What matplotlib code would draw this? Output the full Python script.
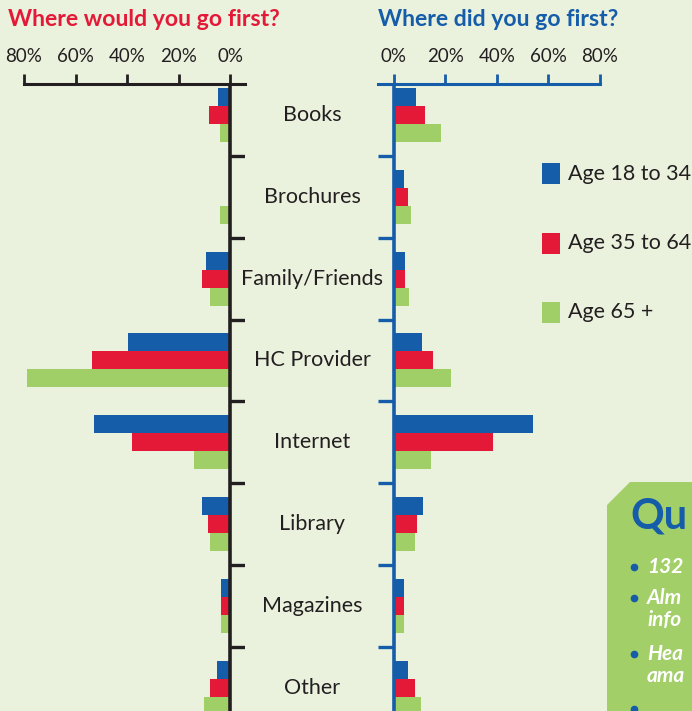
import matplotlib
matplotlib.use("Agg")
import matplotlib.pyplot as plt
from matplotlib.lines import Line2D
from matplotlib.patches import Polygon, Rectangle
from matplotlib.transforms import blended_transform_factory

plt.rcParams['font.family'] = ['Lato', 'DejaVu Sans']

# data (percent of respondents)
categories = ["Books", "Brochures", "Family/Friends", "HC Provider",
              "Internet", "Library", "Magazines", "Other"]
age_groups = ["Age 18 to 34", "Age 35 to 64", "Age 65 +"]
would_18_34 = [4.8, 0.0, 9.3, 39.5, 53.0, 10.9, 3.5, 5.0]
would_35_64 = [8.0, 0.0, 10.9, 53.5, 38.0, 8.5, 3.5, 7.8]
would_65 = [3.8, 3.8, 7.8, 79.0, 14.0, 7.8, 3.5, 10.0]
did_18_34 = [8.6, 3.9, 4.3, 11.0, 54.0, 11.3, 3.9, 5.5]
did_35_64 = [12.0, 5.5, 4.3, 15.0, 38.5, 9.0, 3.9, 8.2]
did_65 = [18.3, 6.6, 5.9, 22.0, 14.5, 8.2, 3.9, 10.5]
pct_ticks = [0, 20, 40, 60, 80]
# the facts panel is cut by the page edge; only these fragments show
facts_title = "Qu"
facts = ["132", "Alm\ninfo", "Hea\nama"]

BG = '#eaf2de'
DARK = '#231f20'
BLUE = '#155ca9'
RED = '#e31937'
GREEN = '#a1cf67'
colors = [BLUE, RED, GREEN]

W, H = 692, 711


def fx(px):
    return px / W


def fy(py):
    return 1 - py / H


fig = plt.figure(figsize=(W / 100, H / 100), dpi=100, facecolor=BG)

# green "quick facts" box in the corner
box = Polygon([(fx(630), fy(482)), (fx(700), fy(482)), (fx(700), fy(720)),
               (fx(607), fy(720)), (fx(607), fy(505))],
              closed=True, transform=fig.transFigure, facecolor='#a3cf69',
              edgecolor='none', zorder=0)
fig.add_artist(box)

top_px = 84
ymin, ymax = (711 - 115) / 81.8, (top_px - 115) / 81.8
off = 18 / 81.8
ypos = list(range(len(categories)))
seps = [i + 0.5 for i in range(len(categories) - 1)]

ax_l = fig.add_axes([fx(24), 0, (245 - 24) / W, (H - top_px) / H])
ax_r = fig.add_axes([fx(378), 0, (600 - 378) / W, (H - top_px) / H])

for ax, series, xl, col in [
        (ax_l, [would_18_34, would_35_64, would_65], (80, -5.8), DARK),
        (ax_r, [did_18_34, did_35_64, did_65], (-6.2, 80), BLUE)]:
    ax.set_facecolor('none')
    for k, vals in enumerate(series):
        ax.barh([y + (k - 1) * off for y in ypos], vals, height=off,
                color=colors[k], linewidth=0)
    ax.set_xlim(*xl)
    ax.set_ylim(ymin, ymax)
    for s in ['left', 'right', 'bottom']:
        ax.spines[s].set_visible(False)
    ax.spines['top'].set_color(col)
    ax.spines['top'].set_linewidth(2.2)
    ax.xaxis.set_ticks_position('top')
    ax.set_xticks(pct_ticks)
    ax.set_xticklabels([f"{t}%" for t in pct_ticks])
    ax.tick_params(axis='x', direction='out', length=7, width=2, color=col,
                   labelcolor=DARK, labelsize=13.5, pad=7)
    ax.set_yticks([])
    ax.axvline(0, color=col, lw=2.6, zorder=3)
    ax.hlines(seps, 0, min(xl), color=col, lw=2.4)

# category labels between the two panels
tr = blended_transform_factory(fig.transFigure, ax_l.transData)
for i, c in enumerate(categories):
    ax_l.text(fx(312), i, c, transform=tr, ha='center', va='center',
              fontsize=15.5, color=DARK, clip_on=False)

fig.text(fx(8), fy(19), "Where would you go first?", color=RED,
         fontsize=16.6, weight='bold', va='center')
fig.text(fx(378), fy(19), "Where did you go first?", color=BLUE,
         fontsize=16.6, weight='bold', va='center')

# legend
for k, name in enumerate(age_groups):
    cy = 173.5 + 69.5 * k
    fig.add_artist(Rectangle((fx(542), fy(cy + 10.5)), 18 / W, 21 / H,
                             transform=fig.transFigure, facecolor=colors[k],
                             edgecolor='none'))
    fig.text(fx(568), fy(cy), name, fontsize=15.5, color=DARK, va='center')

# quick facts panel
fig.text(fx(630), fy(516), facts_title, fontsize=30, weight='bold',
         color=BLUE, va='center')
fact_y = [567, 598, 654]
for y, t in zip(fact_y, facts):
    fig.add_artist(Line2D([fx(634)], [fy(y)], marker='o', markersize=4.5,
                          color=BLUE, transform=fig.transFigure))
    fig.text(fx(647), fy(y - 10), t, fontsize=15, color='white',
             weight='bold', style='italic', va='top', linespacing=1.1)
fig.add_artist(Line2D([fx(634)], [fy(709)], marker='o', markersize=4.5,
                      color=BLUE, transform=fig.transFigure))

fig.savefig("out.png", dpi=100, facecolor=BG)
